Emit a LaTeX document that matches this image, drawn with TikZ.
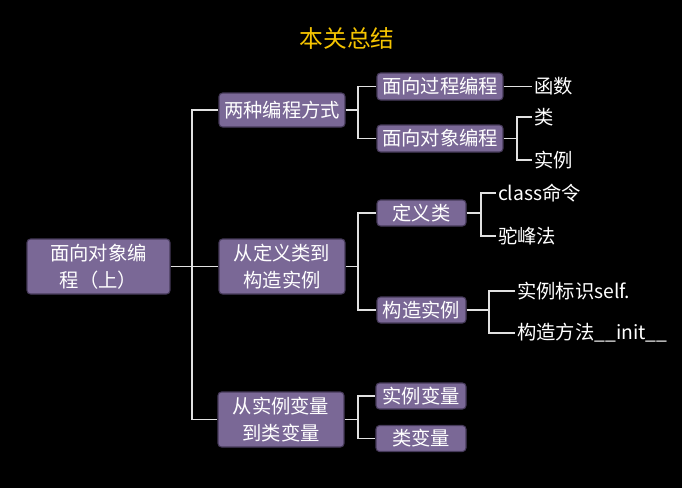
\documentclass[tikz,border=0pt]{standalone}
\usepackage{fontspec}
\setmainfont{Noto Sans CJK SC}
\usetikzlibrary{positioning,calc}
\definecolor{bgBlack}{RGB}{0,0,0}
\definecolor{boxFill}{RGB}{122,104,150}
\definecolor{boxEdge}{RGB}{70,58,90}
\definecolor{lineGray}{RGB}{225,225,225}
\definecolor{titleGold}{RGB}{245,196,0}

\begin{document}
\begin{tikzpicture}[
  x=0.02cm, y=-0.02cm,
  font=\fontsize{11}{15.3}\selectfont,
  topic/.style={draw=boxEdge, fill=boxFill, rounded corners=2pt, line width=0.6pt, text=white, align=center, inner sep=2pt},
  leaf/.style={text=white, anchor=west, inner sep=1pt},
  link/.style={draw=lineGray, line width=0.9pt}
]
\fill[bgBlack] (0,0) rectangle (682,488);
\useasboundingbox (0,0) rectangle (682,488);

% ------------------------------------------------------------------
% Title
% ------------------------------------------------------------------
\node[font=\fontsize{13.5}{16}\selectfont, text=titleGold] (title) at (347,38) {本关总结};

% ------------------------------------------------------------------
% Root and first level
% ------------------------------------------------------------------
\node[topic, minimum width=2.86cm, minimum height=1.1cm] (root) at (98.5,266.5) {面向对象编\\程（上）};

\node[topic, minimum width=2.52cm, minimum height=0.68cm] (ways) at (282,110) {两种编程方式};
\node[topic, minimum width=2.52cm, minimum height=1.1cm] (build) at (282,266.5) {从定义类到\\构造实例};
\node[topic, minimum width=2.52cm, minimum height=1.1cm] (vars) at (281,419.5) {从实例变量\\到类变量};

\coordinate (j0) at (192,266.5);
\draw[link] (root.east) -- (j0);
\draw[link] (j0) |- (ways.west);
\draw[link] (j0) -- (build.west);
\draw[link] (j0) |- (vars.west);

% ------------------------------------------------------------------
% Second level
% ------------------------------------------------------------------
\node[topic, minimum width=2.52cm, minimum height=0.54cm] (proc) at (440,86.5) {面向过程编程};
\node[topic, minimum width=2.52cm, minimum height=0.54cm] (oop) at (440,138.5) {面向对象编程};
\node[topic, minimum width=1.78cm, minimum height=0.52cm] (defcls) at (421.5,213) {定义类};
\node[topic, minimum width=1.78cm, minimum height=0.52cm] (mkinst) at (421.5,310) {构造实例};
\node[topic, minimum width=1.8cm, minimum height=0.52cm] (ivar) at (421,396) {实例变量};
\node[topic, minimum width=1.8cm, minimum height=0.52cm] (cvar) at (421,438.5) {类变量};

\coordinate (j1) at (358,110);
\coordinate (j2) at (358,266.5);
\coordinate (j3) at (358,419.5);
\draw[link] (ways.east) -- (j1);
\draw[link] (j1) |- (proc.west);
\draw[link] (j1) |- (oop.west);
\draw[link] (build.east) -- (j2);
\draw[link] (j2) |- (defcls.west);
\draw[link] (j2) |- (mkinst.west);
\draw[link] (vars.east) -- (j3);
\draw[link] (j3) |- (ivar.west);
\draw[link] (j3) |- (cvar.west);

% ------------------------------------------------------------------
% Leaves
% ------------------------------------------------------------------
\node[leaf] (func) at (532,86.5) {函数};
\node[leaf] (cls) at (532,117) {类};
\node[leaf] (inst) at (532,160) {实例};
\node[leaf] (clscmd) at (496,193) {class命令};
\node[leaf] (camel) at (496,236) {驼峰法};
\node[leaf] (selfid) at (515,291) {实例标识self.};
\node[leaf] (initm) at (515,333) {构造方法\_\_init\_\_};

\coordinate (j4) at (517,138.5);
\coordinate (j5) at (481,213);
\coordinate (j6) at (489,310);
\draw[link] (proc.east) -- (func.west);
\draw[link] (oop.east) -- (j4);
\draw[link] (j4) |- (cls.west);
\draw[link] (j4) |- (inst.west);
\draw[link] (defcls.east) -- (j5);
\draw[link] (j5) |- (clscmd.west);
\draw[link] (j5) |- (camel.west);
\draw[link] (mkinst.east) -- (j6);
\draw[link] (j6) |- (selfid.west);
\draw[link] (j6) |- (initm.west);

\end{tikzpicture}
\end{document}
